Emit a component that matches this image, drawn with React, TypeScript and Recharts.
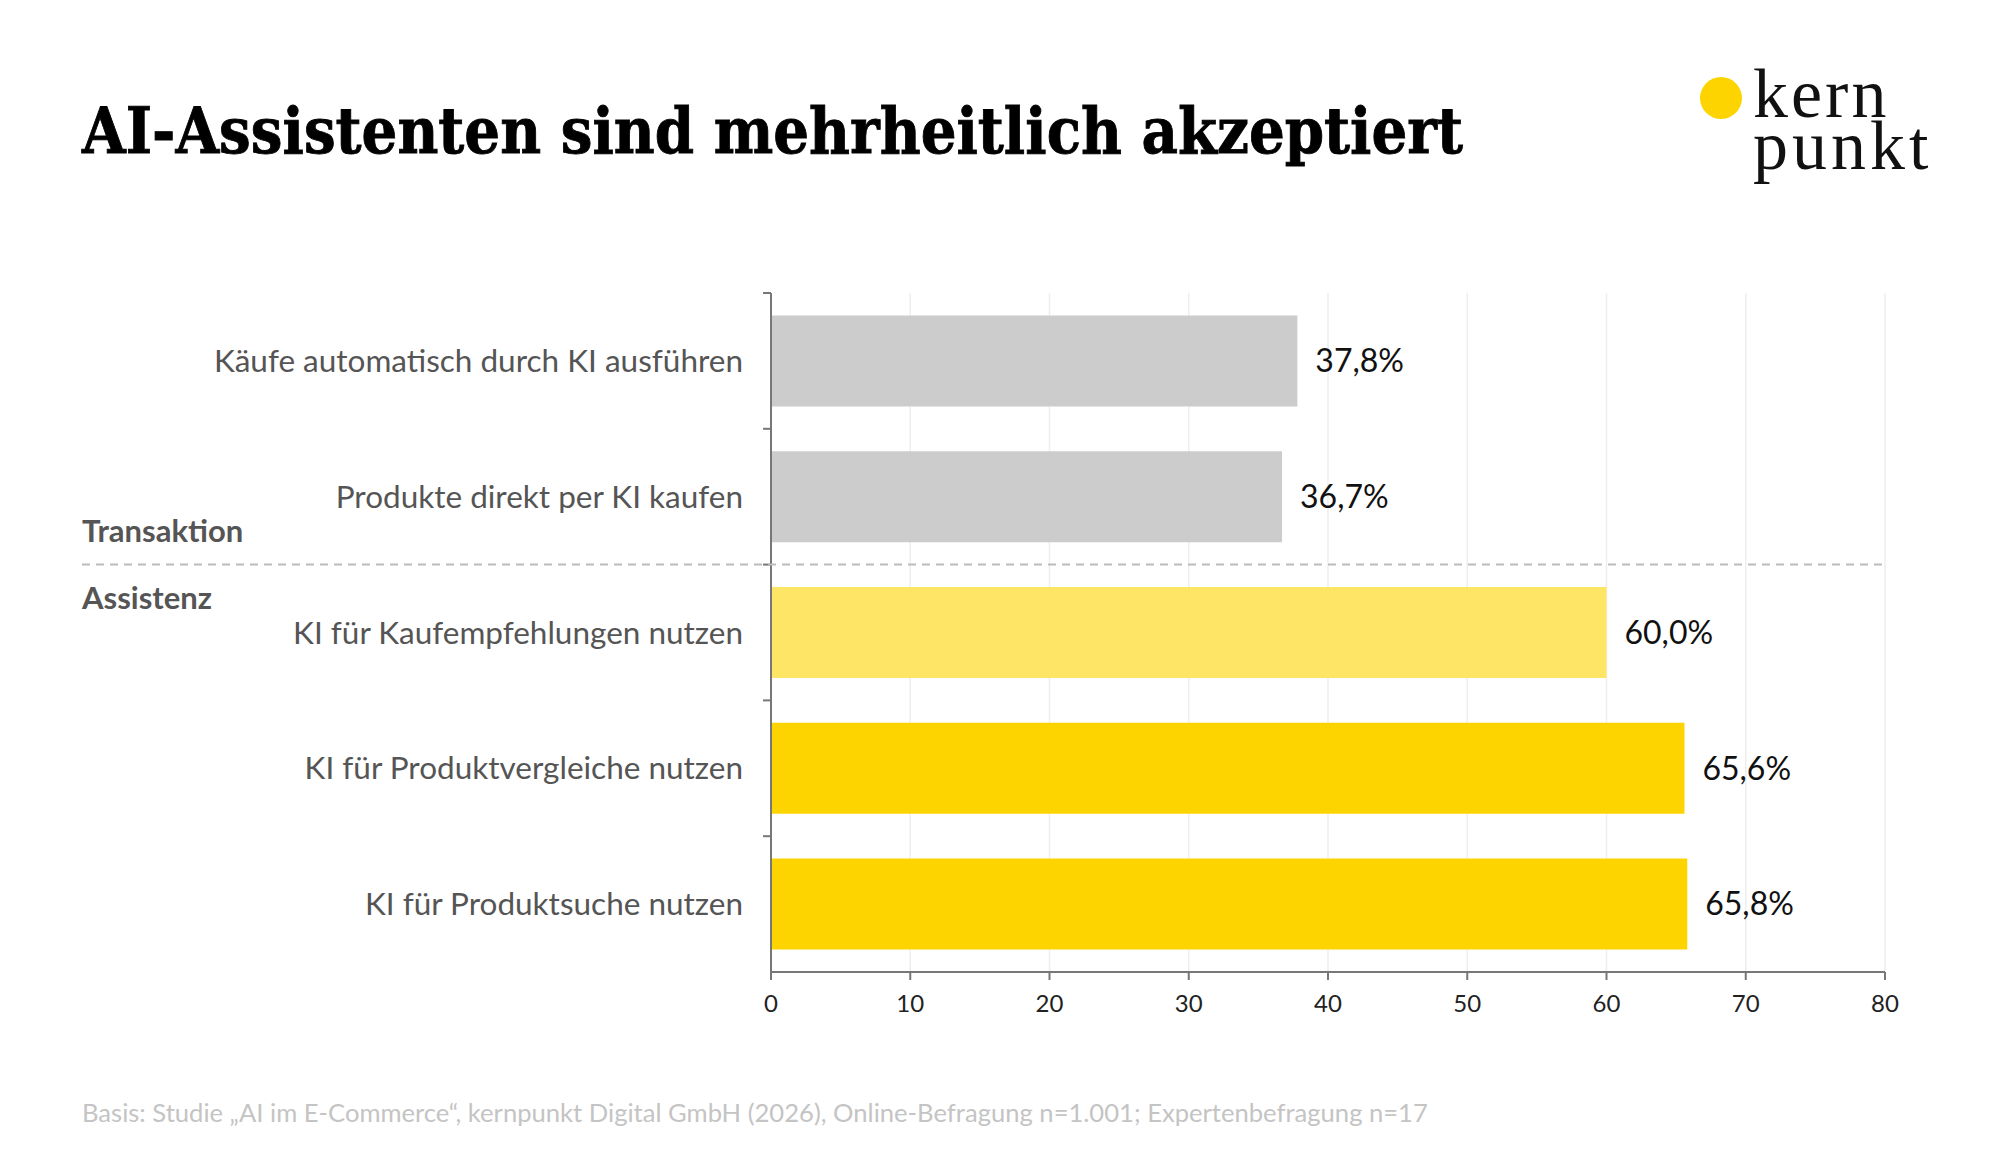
import React from "react"
import { BarChart, Bar, XAxis, YAxis, CartesianGrid, Cell, LabelList } from "recharts"

const categories = [
  "Käufe automatisch durch KI ausführen",
  "Produkte direkt per KI kaufen",
  "KI für Kaufempfehlungen nutzen",
  "KI für Produktvergleiche nutzen",
  "KI für Produktsuche nutzen",
]
const values = [37.8, 36.7, 60.0, 65.6, 65.8]
const groups = ["Transaktion", "Transaktion", "Assistenz", "Assistenz", "Assistenz"]
const barColors = ["#cccccc", "#cccccc", "#ffe566", "#fdd400", "#fdd400"]
const xTicks = [0, 10, 20, 30, 40, 50, 60, 70, 80]

const data = categories.map((name, i) => ({ name, value: values[i], group: groups[i] }))

const W = 2000
const H = 1159
const PLOT_TOP = 293
const PLOT_BOTTOM = 972
const PLOT_LEFT = 771
const PLOT_RIGHT = 1885
const LEFT_EDGE = 82
const X_AXIS_H = 30
const BAND = (PLOT_BOTTOM - PLOT_TOP) / categories.length

const sans = "Lato, 'Open Sans', sans-serif"

const fmt = (v: any) => Number(v).toFixed(1).replace(".", ",") + "%"

function CategoryTick(props: any) {
  const { y, payload, index } = props
  const top = y - BAND / 2
  const newGroup = index > 0 && groups[index] !== groups[index - 1]
  return (
    <g>
      <line x1={PLOT_LEFT - 8} x2={PLOT_LEFT} y1={top} y2={top} stroke="#777" strokeWidth={2} />
      {newGroup && (
        <g>
          <line
            x1={LEFT_EDGE}
            x2={PLOT_RIGHT + 3}
            y1={top}
            y2={top}
            stroke="#bbbbbb"
            strokeWidth={2}
            strokeDasharray="8 6"
          />
          <text x={LEFT_EDGE} y={top - 33} dy="0.35em" fontFamily={sans} fontWeight={700} fontSize={31} fill="#555">
            {groups[index - 1]}
          </text>
          <text x={LEFT_EDGE} y={top + 34} dy="0.35em" fontFamily={sans} fontWeight={700} fontSize={31} fill="#555">
            {groups[index]}
          </text>
        </g>
      )}
      <text x={PLOT_LEFT - 28} y={y} dy="0.35em" textAnchor="end" fontFamily={sans} fontSize={31.5} fill="#555">
        {payload.value}
      </text>
    </g>
  )
}

export default function App() {
  return (
    <div style={{ position: "absolute", left: 0, top: 0, width: W, height: H, background: "#fff" }}>
      <BarChart
        width={W}
        height={H}
        data={data}
        layout="vertical"
        margin={{ top: PLOT_TOP, bottom: H - PLOT_BOTTOM - X_AXIS_H, left: LEFT_EDGE, right: W - PLOT_RIGHT }}
        barCategoryGap="16.5%"
      >
        <CartesianGrid horizontal={false} stroke="#eeeeee" strokeWidth={1.5} />
        <XAxis
          type="number"
          domain={[0, 80]}
          ticks={xTicks}
          interval={0}
          height={X_AXIS_H}
          axisLine={{ stroke: "#777", strokeWidth: 2 }}
          tickLine={{ stroke: "#777", strokeWidth: 2 }}
          tickSize={8}
          tickMargin={15}
          tick={{ fontFamily: sans, fontSize: 24, fill: "#222" }}
        />
        <YAxis
          type="category"
          dataKey="name"
          width={PLOT_LEFT - LEFT_EDGE}
          axisLine={{ stroke: "#777", strokeWidth: 2 }}
          tickLine={false}
          interval={0}
          tick={<CategoryTick />}
        />
        <Bar dataKey="value" isAnimationActive={false}>
          {data.map((d, i) => (
            <Cell key={d.name} fill={barColors[i]} />
          ))}
          <LabelList
            dataKey="value"
            position="right"
            offset={18}
            formatter={fmt}
            style={{ fontFamily: sans, fontSize: 32, fill: "#111" }}
          />
        </Bar>
      </BarChart>
      <svg width={W} height={H} style={{ position: "absolute", left: 0, top: 0, pointerEvents: "none" }}>
        <text
          x={LEFT_EDGE}
          y={153}
          textLength={1381}
          lengthAdjust="spacingAndGlyphs"
          fontFamily="'DejaVu Serif Condensed', 'DejaVu Serif', serif"
          fontWeight={700}
          fontSize={64}
          fill="#000"
          stroke="#000"
          strokeWidth={0.8}
        >
          AI-Assistenten sind mehrheitlich akzeptiert
        </text>
        <circle cx={1721} cy={98} r={21} fill="#fdd400" />
        <text x={LEFT_EDGE} y={1113} dy="0.35em" fontFamily={sans} fontSize={25.6} fill="#c4c4c4">
          Basis: Studie „AI im E-Commerce“, kernpunkt Digital GmbH (2026), Online-Befragung n=1.001; Expertenbefragung n=17
        </text>
      </svg>
      <div
        style={{
          position: "absolute",
          left: 1753,
          top: 68,
          fontFamily: "'Liberation Serif', serif",
          fontSize: 70,
          lineHeight: "52px",
          color: "#111",
          whiteSpace: "nowrap",
        }}
      >
        <span style={{ letterSpacing: 3 }}>kern</span>
        <br />
        <span style={{ letterSpacing: 4 }}>punkt</span>
      </div>
    </div>
  )
}
